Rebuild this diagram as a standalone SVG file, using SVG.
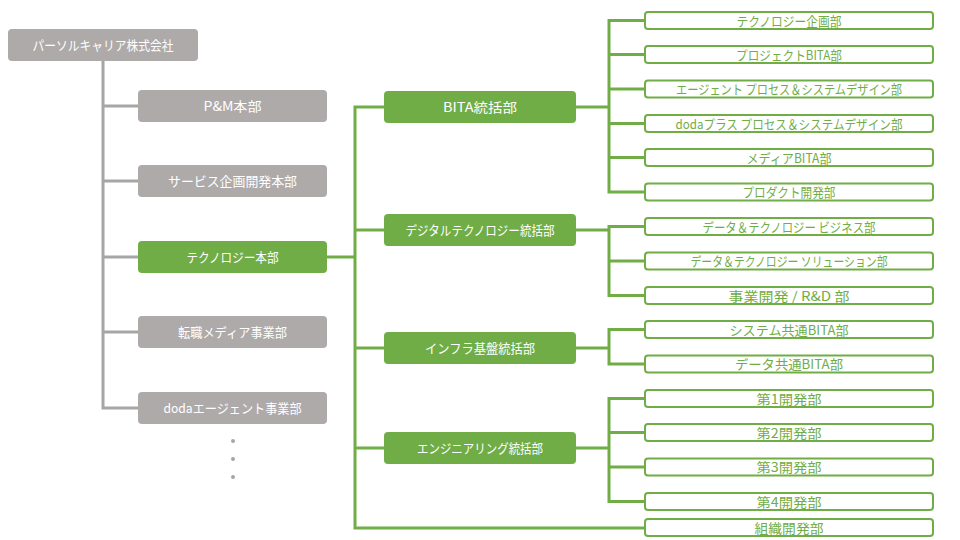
<svg xmlns="http://www.w3.org/2000/svg" width="960" height="540" viewBox="0 0 960 540">
<style>
text{font-family:"Noto Sans CJK JP","Noto Sans",sans-serif;font-size:13px;text-anchor:middle}
.bg{fill:#AEAAAA}
.bgr{fill:#70AD47}
.bs{fill:#FFFFFF;stroke:#70AD47;stroke-width:2}
.tw{fill:#FFFFFF}
.tg{fill:#70AD47}
.lg{fill:none;stroke:#A6A6A6;stroke-width:3}
.lgr{fill:none;stroke:#70AD47;stroke-width:3}
.dot{fill:#A6A6A6}
</style>
<rect width="960" height="540" fill="#FFFFFF"/>
<g id="connectors">
<path class="lg" d="M103 61 V408 H138 M103 106 H138 M103 181 H138 M103 257 H138 M103 332 H138"/>
<path class="lgr" d="M327 257 H355 M384 107 H355 V528 H645 M355 230 H384 M355 348 H384 M355 448 H384"/>
<path class="lgr" d="M576 107 H609 M645 20.5 H609 V192 H645 M609 54.5 H645 M609 89 H645 M609 123.5 H645 M609 157.5 H645"/>
<path class="lgr" d="M576 230 H609 M645 226.5 H609 V295.5 H645 M609 261 H645"/>
<path class="lgr" d="M576 348 H609 M645 329.5 H609 V364 H645"/>
<path class="lgr" d="M576 448 H609 M645 398.5 H609 V501.5 H645 M609 432.5 H645 M609 467 H645"/>
</g>
<g id="root"><rect class="bg" x="8" y="29" width="190" height="32" rx="4"/><text class="tw" x="103" y="49.5" textLength="141" lengthAdjust="spacingAndGlyphs">パーソルキャリア株式会社</text></g>
<g id="pm"><rect class="bg" x="138" y="90" width="189" height="32" rx="4"/><text class="tw" x="232.5" y="110.5" textLength="58" lengthAdjust="spacingAndGlyphs">P&amp;M本部</text></g>
<g id="service"><rect class="bg" x="138" y="165" width="189" height="32" rx="4"/><text class="tw" x="232.5" y="185.5" textLength="129" lengthAdjust="spacingAndGlyphs">サービス企画開発本部</text></g>
<g id="tech"><rect class="bgr" x="138" y="241" width="189" height="32" rx="4"/><text class="tw" x="232.5" y="261.5" textLength="92" lengthAdjust="spacingAndGlyphs">テクノロジー本部</text></g>
<g id="media"><rect class="bg" x="138" y="316" width="189" height="32" rx="4"/><text class="tw" x="232.5" y="336.5" textLength="109" lengthAdjust="spacingAndGlyphs">転職メディア事業部</text></g>
<g id="doda"><rect class="bg" x="138" y="392" width="189" height="32" rx="4"/><text class="tw" x="232.5" y="412.5" textLength="138" lengthAdjust="spacingAndGlyphs">dodaエージェント事業部</text></g>
<g id="ellipsis"><circle class="dot" cx="233" cy="441" r="2"/><circle class="dot" cx="233" cy="459" r="2"/><circle class="dot" cx="233" cy="477" r="2"/></g>
<g id="bita"><rect class="bgr" x="384" y="91" width="192" height="32" rx="4"/><text class="tw" x="480" y="111.5" textLength="74" lengthAdjust="spacingAndGlyphs">BITA統括部</text></g>
<g id="digital"><rect class="bgr" x="384" y="214" width="192" height="32" rx="4"/><text class="tw" x="480" y="234.5" textLength="149" lengthAdjust="spacingAndGlyphs">デジタルテクノロジー統括部</text></g>
<g id="infra"><rect class="bgr" x="384" y="332" width="192" height="32" rx="4"/><text class="tw" x="480" y="352.5" textLength="110" lengthAdjust="spacingAndGlyphs">インフラ基盤統括部</text></g>
<g id="eng"><rect class="bgr" x="384" y="432" width="192" height="32" rx="4"/><text class="tw" x="480" y="452.5" textLength="126" lengthAdjust="spacingAndGlyphs">エンジニアリング統括部</text></g>
<g id="s1"><rect class="bs" x="645" y="12" width="288" height="17" rx="3"/><text class="tg" x="789" y="25.5" textLength="105" lengthAdjust="spacingAndGlyphs">テクノロジー企画部</text></g>
<g id="s2"><rect class="bs" x="645" y="46" width="288" height="17" rx="3"/><text class="tg" x="789" y="59.5" textLength="106" lengthAdjust="spacingAndGlyphs">プロジェクトBITA部</text></g>
<g id="s3"><rect class="bs" x="645" y="80.5" width="288" height="17" rx="3"/><text class="tg" x="789" y="94" textLength="226" lengthAdjust="spacingAndGlyphs">エージェント プロセス＆システムデザイン部</text></g>
<g id="s4"><rect class="bs" x="645" y="115" width="288" height="17" rx="3"/><text class="tg" x="789" y="128.5" textLength="227" lengthAdjust="spacingAndGlyphs">dodaプラス プロセス＆システムデザイン部</text></g>
<g id="s5"><rect class="bs" x="645" y="149" width="288" height="17" rx="3"/><text class="tg" x="789" y="162.5" textLength="85" lengthAdjust="spacingAndGlyphs">メディアBITA部</text></g>
<g id="s6"><rect class="bs" x="645" y="183.5" width="288" height="17" rx="3"/><text class="tg" x="789" y="197" textLength="93" lengthAdjust="spacingAndGlyphs">プロダクト開発部</text></g>
<g id="s7"><rect class="bs" x="645" y="218" width="288" height="17" rx="3"/><text class="tg" x="789" y="231.5" textLength="173" lengthAdjust="spacingAndGlyphs">データ＆テクノロジー ビジネス部</text></g>
<g id="s8"><rect class="bs" x="645" y="252.5" width="288" height="17" rx="3"/><text class="tg" x="789" y="266" textLength="197" lengthAdjust="spacingAndGlyphs">データ＆テクノロジー ソリューション部</text></g>
<g id="s9"><rect class="bs" x="645" y="287" width="288" height="17" rx="3"/><text class="tg" x="789" y="300.5" textLength="121" lengthAdjust="spacingAndGlyphs">事業開発 / R&amp;D 部</text></g>
<g id="s10"><rect class="bs" x="645" y="321" width="288" height="17" rx="3"/><text class="tg" x="789" y="334.5" textLength="119" lengthAdjust="spacingAndGlyphs">システム共通BITA部</text></g>
<g id="s11"><rect class="bs" x="645" y="355.5" width="288" height="17" rx="3"/><text class="tg" x="789" y="369" textLength="108" lengthAdjust="spacingAndGlyphs">データ共通BITA部</text></g>
<g id="s12"><rect class="bs" x="645" y="390" width="288" height="17" rx="3"/><text class="tg" x="789" y="403.5" textLength="65" lengthAdjust="spacingAndGlyphs">第1開発部</text></g>
<g id="s13"><rect class="bs" x="645" y="424" width="288" height="17" rx="3"/><text class="tg" x="789" y="437.5" textLength="65" lengthAdjust="spacingAndGlyphs">第2開発部</text></g>
<g id="s14"><rect class="bs" x="645" y="458.5" width="288" height="17" rx="3"/><text class="tg" x="789" y="472" textLength="65" lengthAdjust="spacingAndGlyphs">第3開発部</text></g>
<g id="s15"><rect class="bs" x="645" y="493" width="288" height="17" rx="3"/><text class="tg" x="789" y="506.5" textLength="65" lengthAdjust="spacingAndGlyphs">第4開発部</text></g>
<g id="s16"><rect class="bs" x="645" y="519" width="288" height="17" rx="3"/><text class="tg" x="789" y="532.5" textLength="69" lengthAdjust="spacingAndGlyphs">組織開発部</text></g>
</svg>
